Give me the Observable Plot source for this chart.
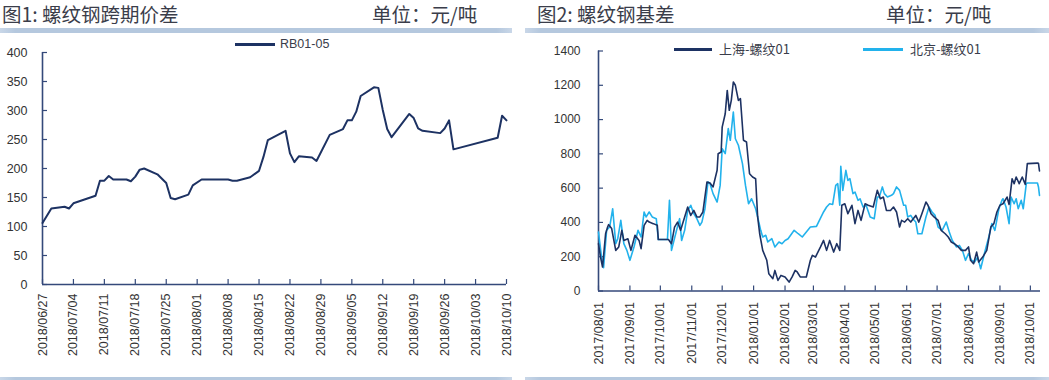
<!DOCTYPE html>
<html><head><meta charset="utf-8">
<script src="https://cdn.jsdelivr.net/npm/d3@7"></script>
<script src="https://cdn.jsdelivr.net/npm/@observablehq/plot@0.6"></script>
<style>
body{margin:0;background:#fff;}
#wrap{position:relative;width:1049px;height:380px;overflow:hidden;font-family:"Noto Sans CJK SC","Noto Sans",sans-serif;}
.title{position:absolute;top:4px;height:20px;font-size:19.5px;color:#3a3d4a;line-height:20px;white-space:nowrap;}
.bar{position:absolute;height:5px;background:linear-gradient(to right,#c9d7e8,#b5c8de 3%,#b5c8de 97%,#c9d7e8);}
.plot{position:absolute;top:34px;}
.leg{position:absolute;font-size:13px;color:#3a3d4a;white-space:nowrap;line-height:16px;}
.legline{position:absolute;height:2.5px;}
</style></head>
<body><div id="wrap">
<div class="title" style="left:2px">图1: 螺纹钢跨期价差</div>
<div class="title" style="left:372px">单位：元/吨</div>
<div class="title" style="left:537px">图2: 螺纹钢基差</div>
<div class="title" style="left:886px">单位：元/吨</div>
<div class="bar" style="left:0;width:512px;top:28px"></div>
<div class="bar" style="left:525px;width:524px;top:28px"></div>
<div class="bar" style="left:0;width:512px;top:377px"></div>
<div class="bar" style="left:525px;width:524px;top:377px"></div>
<div id="p1" class="plot" style="left:0"></div>
<div id="p2" class="plot" style="left:525px"></div>
<div class="legline" style="left:235px;top:43px;width:40px;background:#1d3263"></div>
<div class="leg" style="left:280px;top:36px;font-family:'Liberation Sans',sans-serif;font-size:12.5px">RB01-05</div>
<div class="legline" style="left:674px;top:48px;width:38px;background:#1d3263"></div>
<div class="leg" style="left:719px;top:41px">上海-螺纹01</div>
<div class="legline" style="left:863px;top:48px;width:40px;background:#22b2ec"></div>
<div class="leg" style="left:910px;top:41px">北京-螺纹01</div>
</div>
<script>
// ---- Figure 1: RB01-05 calendar spread ----
const spreadDates = ["2018-06-27","2018-06-29","2018-07-02","2018-07-03","2018-07-04","2018-07-09","2018-07-10","2018-07-11","2018-07-12","2018-07-13","2018-07-16","2018-07-17","2018-07-18","2018-07-19","2018-07-20","2018-07-23","2018-07-25","2018-07-26","2018-07-27","2018-07-30","2018-07-31","2018-08-02","2018-08-08","2018-08-09","2018-08-10","2018-08-13","2018-08-15","2018-08-16","2018-08-17","2018-08-21","2018-08-22","2018-08-23","2018-08-24","2018-08-27","2018-08-28","2018-08-31","2018-09-03","2018-09-04","2018-09-05","2018-09-06","2018-09-07","2018-09-10","2018-09-11","2018-09-12","2018-09-13","2018-09-14","2018-09-18","2018-09-19","2018-09-20","2018-09-21","2018-09-25","2018-09-26","2018-09-27","2018-09-28","2018-10-08","2018-10-09","2018-10-10"];
const spreadValues = [106,131,134,131,140,153,179,179,187,181,181,178,186,198,200,190,175,149,147,155,171,181,181,179,179,185,196,220,249,265,226,211,221,219,213,258,268,283,283,298,325,340,339,301,268,254,294,287,269,265,261,269,283,233,253,291,283];
const x1Ticks = ["2018-06-27","2018-07-04","2018-07-11","2018-07-18","2018-07-25","2018-08-01","2018-08-08","2018-08-15","2018-08-22","2018-08-29","2018-09-05","2018-09-12","2018-09-19","2018-09-26","2018-10-03","2018-10-10"];
const y1Ticks = [0,50,100,150,200,250,300,350,400];

// ---- Figure 2: rebar basis ----
const shDates = ["2017-08-01","2017-08-03","2017-08-05","2017-08-08","2017-08-10","2017-08-11","2017-08-14","2017-08-18","2017-08-21","2017-08-24","2017-08-26","2017-08-30","2017-09-02","2017-09-06","2017-09-10","2017-09-12","2017-09-15","2017-09-18","2017-09-20","2017-09-24","2017-09-28","2017-09-29","2017-10-09","2017-10-12","2017-10-15","2017-10-18","2017-10-21","2017-10-25","2017-10-28","2017-10-31","2017-11-03","2017-11-06","2017-11-09","2017-11-12","2017-11-16","2017-11-19","2017-11-22","2017-11-26","2017-11-27","2017-11-30","2017-12-01","2017-12-04","2017-12-06","2017-12-08","2017-12-10","2017-12-12","2017-12-14","2017-12-17","2017-12-19","2017-12-22","2017-12-25","2017-12-28","2017-12-31","2018-01-03","2018-01-05","2018-01-07","2018-01-10","2018-01-14","2018-01-16","2018-01-20","2018-01-22","2018-01-25","2018-01-28","2018-02-01","2018-02-05","2018-02-08","2018-02-11","2018-02-13","2018-02-16","2018-02-22","2018-02-26","2018-02-28","2018-03-03","2018-03-08","2018-03-11","2018-03-14","2018-03-17","2018-03-21","2018-03-24","2018-03-27","2018-03-29","2018-04-01","2018-04-04","2018-04-08","2018-04-11","2018-04-14","2018-04-17","2018-04-21","2018-04-24","2018-04-29","2018-05-03","2018-05-06","2018-05-09","2018-05-12","2018-05-16","2018-05-19","2018-05-22","2018-05-25","2018-05-27","2018-05-30","2018-06-02","2018-06-05","2018-06-10","2018-06-13","2018-06-16","2018-06-20","2018-06-22","2018-06-25","2018-06-28","2018-07-02","2018-07-05","2018-07-09","2018-07-12","2018-07-15","2018-07-18","2018-07-22","2018-07-25","2018-07-29","2018-08-01","2018-08-03","2018-08-06","2018-08-09","2018-08-11","2018-08-15","2018-08-19","2018-08-23","2018-08-26","2018-08-29","2018-09-01","2018-09-04","2018-09-08","2018-09-10","2018-09-13","2018-09-15","2018-09-17","2018-09-20","2018-09-23","2018-09-26","2018-09-28","2018-10-08","2018-10-09","2018-10-10"];
const shValues = [276,198,140,334,373,387,364,237,257,354,295,305,237,325,295,247,383,412,402,393,383,300,300,276,373,402,354,432,490,441,470,432,432,461,636,630,607,704,801,811,956,1034,1170,1054,1112,1219,1200,1112,1122,879,869,684,665,655,432,334,237,179,101,72,120,62,91,82,52,82,120,111,82,82,179,208,198,257,295,237,295,227,276,237,500,509,451,500,393,470,412,509,500,490,587,538,548,470,470,490,461,373,412,402,422,402,441,402,451,519,500,451,432,412,354,334,315,286,276,257,237,237,257,179,159,227,169,198,237,373,393,461,500,509,548,505,655,626,665,626,665,622,743,746,745,700];
const bjDates = ["2017-08-01","2017-08-04","2017-08-06","2017-08-09","2017-08-12","2017-08-15","2017-08-18","2017-08-20","2017-08-23","2017-08-26","2017-08-29","2017-09-01","2017-09-05","2017-09-09","2017-09-12","2017-09-15","2017-09-17","2017-09-20","2017-09-23","2017-09-27","2017-09-29","2017-10-08","2017-10-10","2017-10-12","2017-10-17","2017-10-20","2017-10-22","2017-10-25","2017-10-28","2017-10-31","2017-11-03","2017-11-06","2017-11-09","2017-11-11","2017-11-14","2017-11-17","2017-11-19","2017-11-22","2017-11-26","2017-11-29","2017-12-01","2017-12-04","2017-12-07","2017-12-09","2017-12-12","2017-12-14","2017-12-17","2017-12-21","2017-12-24","2017-12-27","2017-12-30","2018-01-03","2018-01-05","2018-01-08","2018-01-10","2018-01-13","2018-01-15","2018-01-19","2018-01-22","2018-01-26","2018-01-29","2018-02-01","2018-02-04","2018-02-10","2018-02-14","2018-02-18","2018-02-26","2018-03-04","2018-03-11","2018-03-14","2018-03-17","2018-03-20","2018-03-23","2018-03-25","2018-03-27","2018-03-28","2018-03-30","2018-04-02","2018-04-04","2018-04-06","2018-04-09","2018-04-11","2018-04-14","2018-04-16","2018-04-19","2018-04-22","2018-04-26","2018-04-30","2018-05-03","2018-05-05","2018-05-08","2018-05-10","2018-05-13","2018-05-17","2018-05-19","2018-05-22","2018-05-25","2018-05-29","2018-05-31","2018-06-02","2018-06-05","2018-06-07","2018-06-10","2018-06-12","2018-06-16","2018-06-20","2018-06-23","2018-06-26","2018-06-29","2018-07-02","2018-07-06","2018-07-10","2018-07-13","2018-07-16","2018-07-20","2018-07-23","2018-07-26","2018-07-29","2018-08-01","2018-08-04","2018-08-07","2018-08-10","2018-08-13","2018-08-17","2018-08-21","2018-08-24","2018-08-27","2018-08-31","2018-09-03","2018-09-04","2018-09-07","2018-09-10","2018-09-12","2018-09-15","2018-09-17","2018-09-19","2018-09-22","2018-09-24","2018-09-27","2018-09-28","2018-10-08","2018-10-09","2018-10-10"];
const bjValues = [344,198,136,354,373,480,276,305,412,276,237,179,257,354,315,461,432,461,432,422,300,300,529,237,354,422,295,354,470,500,451,422,383,402,480,636,626,568,519,616,830,801,947,879,1044,888,850,743,616,509,538,480,432,354,315,325,286,305,257,286,276,295,305,354,334,315,373,377,461,490,509,505,616,626,500,727,587,704,645,655,568,577,529,538,490,500,432,422,548,548,607,568,548,558,568,607,587,500,500,432,441,422,402,334,334,432,490,461,441,373,354,402,344,295,257,266,237,179,218,179,169,198,130,227,315,393,354,480,529,538,490,393,548,509,538,480,529,480,626,630,630,607,558];
const x2Ticks = ["2017-08-01","2017-09-01","2017-10-01","2017-11-01","2017-12-01","2018-01-01","2018-02-01","2018-03-01","2018-04-01","2018-05-01","2018-06-01","2018-07-01","2018-08-01","2018-09-01","2018-10-01"];
const y2Ticks = [0,200,400,600,800,1000,1200,1400];
const x2End = "2018-10-11";

const parse = d3.utcParse("%Y-%m-%d");
const fmt = d3.utcFormat("%Y/%m/%d");
const plain = d => String(d);
const axisColor = "#34497a";
const dark = "#1d3263";
const light = "#22b2ec";

// Figure 1
{
  const W = 515, H = 336, mT = 18, mB = 86, mL = 42, mR = 9;
  const innerH = H - mT - mB, innerW = W - mL - mR;
  const rows = spreadDates.map((d, i) => ({date: parse(d), value: spreadValues[i]}));
  const ticks = x1Ticks.map(parse);
  const chart = Plot.plot({
    width: W, height: H, marginTop: mT, marginBottom: mB, marginLeft: mL, marginRight: mR,
    style: {fontSize: "12.5px", fontFamily: "'Liberation Sans', Arial, sans-serif", color: "#333", background: "transparent"},
    x: {type: "utc", domain: [ticks[0], ticks[ticks.length - 1]]},
    y: {domain: [0, 400]},
    marks: [
      Plot.axisY(y1Ticks, {tickSize: 0, tickPadding: 15, tickFormat: plain, label: null}),
      Plot.axisX(ticks, {tickSize: 0, tickRotate: -90, tickPadding: 9, tickFormat: fmt, label: null}),
      Plot.ruleX(ticks, {stroke: axisColor, strokeWidth: 1.2, insetTop: innerH - 5}),
      Plot.ruleY(y1Ticks, {stroke: axisColor, strokeWidth: 1.2, insetRight: innerW - 5}),
      Plot.ruleY([0], {stroke: axisColor, strokeWidth: 1.6}),
      Plot.ruleX([ticks[0]], {stroke: axisColor, strokeWidth: 1.6}),
      Plot.line(rows, {x: "date", y: "value", stroke: dark, strokeWidth: 2})
    ]
  });
  document.getElementById("p1").append(chart);
}

// Figure 2
{
  const W = 524, H = 336, mT = 16.5, mB = 79.5, mL = 73, mR = 9;
  const innerH = H - mT - mB, innerW = W - mL - mR;
  const sh = shDates.map((d, i) => ({date: parse(d), value: shValues[i]}));
  const bj = bjDates.map((d, i) => ({date: parse(d), value: bjValues[i]}));
  const ticks = x2Ticks.map(parse);
  const chart = Plot.plot({
    width: W, height: H, marginTop: mT, marginBottom: mB, marginLeft: mL, marginRight: mR,
    style: {fontSize: "12px", fontFamily: "'Liberation Sans', Arial, sans-serif", color: "#333", background: "transparent"},
    x: {type: "utc", domain: [ticks[0], parse(x2End)]},
    y: {domain: [0, 1400]},
    marks: [
      Plot.axisY(y2Ticks, {tickSize: 0, tickPadding: 18, tickFormat: plain, label: null}),
      Plot.axisX(ticks, {tickSize: 0, tickRotate: -90, tickPadding: 11, tickFormat: fmt, label: null, fontSize: 12.5}),
      Plot.ruleX(ticks, {stroke: axisColor, strokeWidth: 1.2, insetTop: innerH - 5}),
      Plot.ruleY(y2Ticks, {stroke: axisColor, strokeWidth: 1.2, insetRight: innerW - 5}),
      Plot.ruleY([0], {stroke: axisColor, strokeWidth: 1.6}),
      Plot.ruleX([ticks[0]], {stroke: axisColor, strokeWidth: 1.6}),
      Plot.line(bj, {x: "date", y: "value", stroke: light, strokeWidth: 1.6}),
      Plot.line(sh, {x: "date", y: "value", stroke: dark, strokeWidth: 1.6})
    ]
  });
  document.getElementById("p2").append(chart);
}
</script>
</body></html>
